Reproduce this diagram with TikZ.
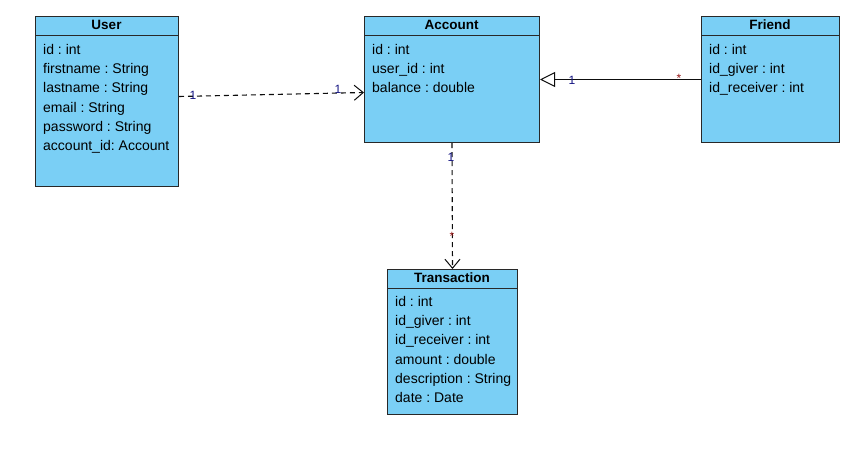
\documentclass[tikz,border=0pt]{standalone}
\usepackage{fontspec}
\setmainfont{Liberation Sans}
\usetikzlibrary{arrows.meta,calc}
\definecolor{clsfill}{RGB}{122,207,245}
\definecolor{clsline}{RGB}{40,40,40}
\definecolor{multone}{RGB}{20,20,130}
\definecolor{multstar}{RGB}{150,20,20}
\frenchspacing
\tikzset{
  classbox/.style={draw=clsline, fill=clsfill, line width=1pt, anchor=north west, inner sep=0pt},
  headline/.style={draw=clsline, line width=1pt},
  classtitle/.style={font=\fontsize{13.5}{15}\selectfont\bfseries, inner sep=0pt},
  attr/.style={font=\fontsize{14}{15}\selectfont, anchor=base west, inner sep=0pt},
  conn/.style={draw=black!95, line width=1.1pt},
  dashconn/.style={conn, dash pattern=on 5pt off 4pt},
  openhead/.style={-{Straight Barb[length=9pt,width=15pt,line width=1pt]}},
  inherithead/.style={-{Triangle[open,length=15pt,width=15pt,line width=1pt,fill=white]}},
  mult/.style={font=\fontsize{12}{12}\selectfont, inner sep=0pt, text=multone},
  mults/.style={font=\fontsize{12}{12}\selectfont, inner sep=0pt, text=multstar}
}
\begin{document}
\begin{tikzpicture}[x=1pt,y=-1pt]
\useasboundingbox[fill=white] (0,0) rectangle (867,450);

% User
\node[classbox, minimum width=143pt, minimum height=170pt] (user) at (35,16) {};
\draw[headline] (35,35) -- (178,35);
\node[classtitle] (usert) at (106.5,25) {User};
\foreach \t [count=\i] in {id : int, firstname : String, lastname : String, email : String, password : String, account\_id: Account}
  \node[attr] (ua\i) at (43,54.5+19.2*\i-19.2) {\t};

% Account
\node[classbox, minimum width=175pt, minimum height=126pt] (account) at (364,16) {};
\draw[headline] (364,35) -- (539,35);
\node[classtitle] (accountt) at (451.5,25) {Account};
\foreach \t [count=\i] in {id : int, user\_id : int, balance : double}
  \node[attr] (aa\i) at (372,54.5+19.2*\i-19.2) {\t};

% Friend
\node[classbox, minimum width=138pt, minimum height=126pt] (friend) at (701,16) {};
\draw[headline] (701,35) -- (839,35);
\node[classtitle] (friendt) at (770,25) {Friend};
\foreach \t [count=\i] in {id : int, id\_giver : int, id\_receiver : int}
  \node[attr] (fa\i) at (709,54.5+19.2*\i-19.2) {\t};

% Transaction
\node[classbox, minimum width=130pt, minimum height=145pt] (trans) at (387,269) {};
\draw[headline] (387,288) -- (517,288);
\node[classtitle] (transt) at (452,278) {Transaction};
\foreach \t [count=\i] in {id : int, id\_giver : int, id\_receiver : int, amount : double, description : String, date : Date}
  \node[attr] (ta\i) at (395,306.5+19.2*\i-19.2) {\t};

% Connectors
\draw[dashconn, openhead] ([yshift=5pt]user.east) -- ([yshift=-13pt]account.west);
\draw[conn, inherithead] (friend.west) -- (account.east);
\draw[dashconn, openhead] (account.south) -- (trans.north);

% Multiplicities
\node[mult] (m1) at (193,95) {1};
\node[mult] (m2) at (338,89) {1};
\node[mult] (m3) at (572,80) {1};
\node[mults] (m4) at (679,78) {*};
\node[mult] (m5) at (451,157) {1};
\node[mults] (m6) at (452,236) {*};
\end{tikzpicture}
\end{document}
